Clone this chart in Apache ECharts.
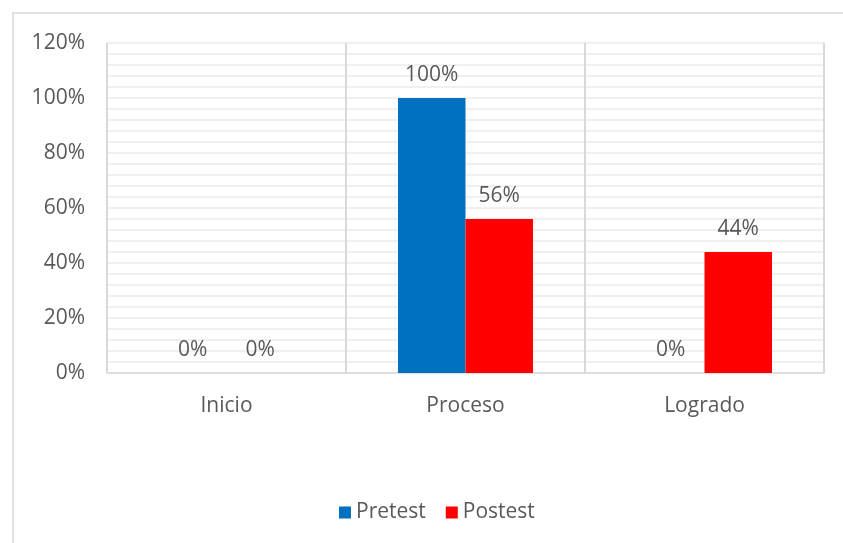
<!DOCTYPE html>
<html>
<head>
<meta charset="utf-8">
<script src="https://cdn.jsdelivr.net/npm/echarts@6/dist/echarts.min.js"></script>
<style>html,body{margin:0;padding:0;background:#fff}#c{width:843px;height:543px}</style>
</head>
<body>
<div id="c"></div>
<script>
var categories = ['Inicio', 'Proceso', 'Logrado'];
var seriesNames = ['Pretest', 'Postest'];
var pretest = [0, 100, 0];
var postest = [0, 56, 44];
var yTicks = [0, 20, 40, 60, 80, 100, 120];

var chart = echarts.init(document.getElementById('c'), null, {renderer: 'canvas'});
var FONT = '"Open Sans", sans-serif';
var FS = 21;
var labelCfg = {show: true, position: 'top', distance: 12, color: '#595959', fontSize: FS, fontFamily: FONT, formatter: function(p){return p.value + '%';}};
chart.setOption({
  animation: false,
  backgroundColor: '#fff',
  graphic: [{type: 'rect', shape: {x: 13, y: 13, width: 840, height: 540}, style: {fill: 'none', stroke: '#d9d9d9', lineWidth: 1.5}, z: -1}],
  legend: {
    data: seriesNames, bottom: 15, left: 334, itemWidth: 12, itemHeight: 12, itemGap: 20,
    icon: 'rect',
    textStyle: {color: '#595959', fontSize: FS, fontFamily: FONT, padding: [0, 0, 0, 0]}
  },
  grid: {left: 107, right: 19, top: 43, bottom: 170, containLabel: false},
  xAxis: {
    type: 'category', data: categories,
    axisTick: {show: false},
    axisLine: {show: true, lineStyle: {color: '#d9d9d9', width: 1.5}},
    axisLabel: {color: '#595959', fontSize: FS, fontFamily: FONT, margin: 23},
    splitLine: {show: true, interval: 0, lineStyle: {color: '#d9d9d9', width: 2}}
  },
  yAxis: {
    type: 'value', min: 0, max: 120, interval: 20,
    axisLine: {show: false}, axisTick: {show: false},
    axisLabel: {color: '#595959', fontSize: FS, fontFamily: FONT, margin: 22, formatter: function(v){return v + '%';}},
    splitLine: {show: true, lineStyle: {color: '#ebebeb', width: 1.5}},
    minorTick: {show: false, splitNumber: 5},
    minorSplitLine: {show: true, lineStyle: {color: '#ebebeb', width: 1.5}}
  },
  series: [
    {name: seriesNames[0], type: 'bar', data: pretest, barGap: '0%', barCategoryGap: '43.5%', itemStyle: {color: '#0070C0'}, label: labelCfg},
    {name: seriesNames[1], type: 'bar', data: postest, itemStyle: {color: '#FF0000'}, label: labelCfg}
  ]
});
</script>
</body>
</html>
